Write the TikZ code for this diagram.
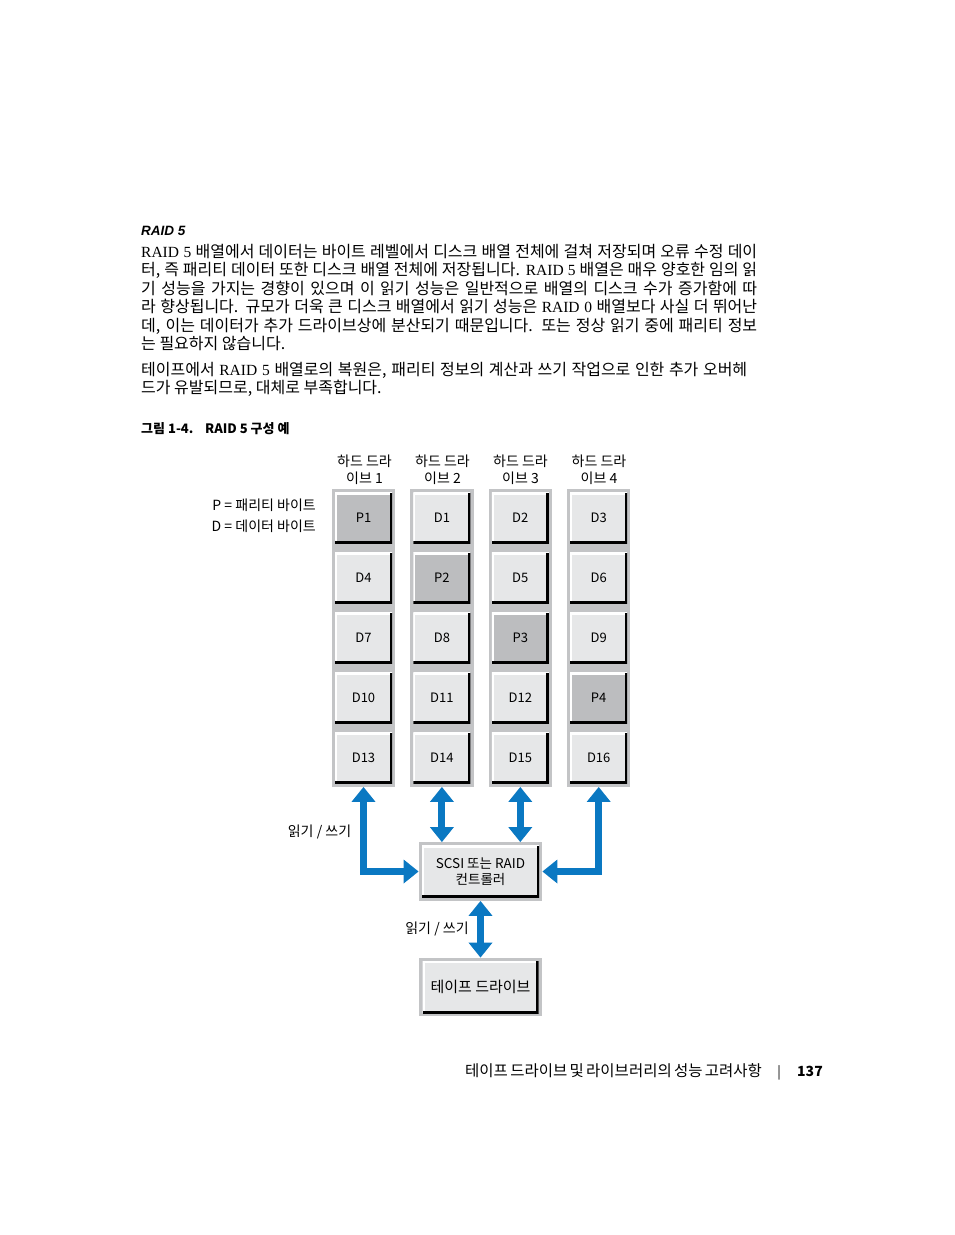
\documentclass[tikz,border=0pt]{standalone}
\usepackage{fontspec}
\setmainfont{Liberation Serif}
\newfontfamily\krfont{Noto Sans CJK KR}
\newfontfamily\headfont{Liberation Sans}
\usetikzlibrary{arrows.meta,positioning,fit,backgrounds}
\definecolor{dellblue}{HTML}{0A78C2}
\definecolor{diskfill}{HTML}{E6E7E8}
\definecolor{parfill}{HTML}{BCBDBF}
\definecolor{stripgray}{HTML}{C3C4C6}
\newcommand\lat[1]{{\rmfamily\fontsize{15.5}{18.5}\selectfont #1}}

\begin{document}
\begin{tikzpicture}[
  x=1pt, y=-1pt,
  font=\krfont\fontsize{13}{15}\selectfont,
  disk/.style={fill=diskfill, minimum width=57pt, minimum height=51pt, inner sep=0pt,
               path picture={
                 \draw[white, line width=4pt] (path picture bounding box.south west)
                   -- (path picture bounding box.north west) -- (path picture bounding box.north east);
                 \draw[black, line width=5pt] (path picture bounding box.north east)
                   -- (path picture bounding box.south east) -- (path picture bounding box.south west);}},
  parity/.style={disk, fill=parfill},
  strip/.style={fill=stripgray, inner sep=3pt},
  hdlbl/.style={align=center, font=\krfont\fontsize{14}{17}\selectfont},
  bodyln/.style={anchor=base west, inner sep=0pt, font=\krfont\fontsize{16}{18.5}\selectfont},
  rw/.style={{Triangle[length=15pt,width=23pt]}-{Triangle[length=15pt,width=23pt]},
             draw=dellblue, line width=7pt}
]
\path[use as bounding box] (0,0) rectangle (954,1235);

% text above the figure
\node[anchor=base west, inner sep=0pt, font=\headfont\bfseries\itshape\fontsize{13.5}{16}\selectfont] (head) at (141,235) {RAID 5};
\node[bodyln] (l1) at (141,257) {\makebox[616pt][s]{\lat{RAID 5} 배열에서 데이터는 바이트 레벨에서 디스크 배열 전체에 걸쳐 저장되며 오류 수정 데이}};
\node[bodyln] (l2) at (141,275.5) {\makebox[616pt][s]{터, 즉 패리티 데이터 또한 디스크 배열 전체에 저장됩니다. \lat{RAID 5} 배열은 매우 양호한 임의 읽}};
\node[bodyln] (l3) at (141,294) {\makebox[616pt][s]{기 성능을 가지는 경향이 있으며 이 읽기 성능은 일반적으로 배열의 디스크 수가 증가함에 따}};
\node[bodyln] (l4) at (141,312.5) {\makebox[616pt][s]{라 향상됩니다. 규모가 더욱 큰 디스크 배열에서 읽기 성능은 \lat{RAID 0} 배열보다 사실 더 뛰어난}};
\node[bodyln] (l5) at (141,331) {\makebox[616pt][s]{데, 이는 데이터가 추가 드라이브상에 분산되기 때문입니다. 또는 정상 읽기 중에 패리티 정보}};
\node[bodyln] (l6) at (141,349.5) {는 필요하지 않습니다.};
\node[bodyln] (l7) at (141,375) {\makebox[606pt][s]{테이프에서 \lat{RAID 5} 배열로의 복원은, 패리티 정보의 계산과 쓰기 작업으로 인한 추가 오버헤}};
\node[bodyln] (l8) at (141,393.5) {드가 유발되므로, 대체로 부족합니다.};

\node[anchor=base west, inner sep=0pt, font=\krfont\bfseries\fontsize{13}{16}\selectfont] (capno) at (141,433) {그림 1-4.};
\node[anchor=base west, inner sep=0pt, font=\krfont\bfseries\fontsize{13}{16}\selectfont] (captxt) at (205,433) {RAID 5 구성 예};

% legend and drive labels
\node[anchor=east, inner sep=0pt, font=\krfont\fontsize{14}{16}\selectfont] (legp) at (316,505) {P = 패리티 바이트};
\node[anchor=east, inner sep=0pt, font=\krfont\fontsize{14}{16}\selectfont] (legd) at (316,526) {D = 데이터 바이트};
\node[hdlbl] (hd1) at (364.5,469.5) {하드 드라\\이브 1};
\node[hdlbl] (hd2) at (442.5,469.5) {하드 드라\\이브 2};
\node[hdlbl] (hd3) at (520.5,469.5) {하드 드라\\이브 3};
\node[hdlbl] (hd4) at (599,469.5) {하드 드라\\이브 4};

% the four drives
\node[parity] (p1) at (363.5,518) {P1};
\node[disk, right=21pt of p1] (d1) {D1};
\node[disk, right=21pt of d1] (d2) {D2};
\node[disk, right=21pt of d2] (d3) {D3};
\node[disk, below=8.6pt of p1] (d4) {D4};
\node[parity, below=8.6pt of d1] (p2) {P2};
\node[disk, below=8.6pt of d2] (d5) {D5};
\node[disk, below=8.6pt of d3] (d6) {D6};
\node[disk, below=8.6pt of d4] (d7) {D7};
\node[disk, below=8.6pt of p2] (d8) {D8};
\node[parity, below=8.6pt of d5] (p3) {P3};
\node[disk, below=8.6pt of d6] (d9) {D9};
\node[disk, below=8.6pt of d7] (d10) {D10};
\node[disk, below=8.6pt of d8] (d11) {D11};
\node[disk, below=8.6pt of p3] (d12) {D12};
\node[parity, below=8.6pt of d9] (p4) {P4};
\node[disk, below=8.6pt of d10] (d13) {D13};
\node[disk, below=8.6pt of d11] (d14) {D14};
\node[disk, below=8.6pt of d12] (d15) {D15};
\node[disk, below=8.6pt of p4] (d16) {D16};

% controller and tape
\node[disk, minimum width=117pt, minimum height=52pt, align=center, font=\krfont\fontsize{13.5}{16.5}\selectfont] (ctrl) at (480.5,871.5) {SCSI 또는 RAID\\컨트롤러};
\node[disk, minimum width=116pt, minimum height=52pt, font=\krfont\fontsize{15}{17}\selectfont] (tape) at (480.5,987) {테이프 드라이브};

\begin{scope}[on background layer]
  \fill[white] (0,0) rectangle (954,1235);
  \node[strip, fit=(p1)(d13)] (col1) {};
  \node[strip, fit=(d1)(d14)] (col2) {};
  \node[strip, fit=(d2)(d15)] (col3) {};
  \node[strip, fit=(d3)(d16)] (col4) {};
  \node[strip, fit=(ctrl)] (ctrlf) {};
  \node[strip, fit=(tape)] (tapef) {};
\end{scope}

\draw[rw] (col1.south) |- (ctrlf.west);
\draw[rw] (col2.south) -- (col2.south |- ctrlf.north);
\draw[rw] (col3.south) -- (col3.south |- ctrlf.north);
\draw[rw] (col4.south) |- (ctrlf.east);
\draw[rw] (ctrlf.south) -- (tapef.north);
\node[font=\krfont\fontsize{14}{16}\selectfont] (rw1) at (319.5,832) {읽기 / 쓰기};
\node[font=\krfont\fontsize{14}{16}\selectfont] (rw2) at (437,929) {읽기 / 쓰기};

% footer
\node[anchor=base west, inner sep=0pt, font=\krfont\fontsize{15.5}{17}\selectfont] (foot) at (465,1076) {\makebox[295pt][s]{테이프 드라이브 및 라이브러리의 성능 고려사항}};
\node[anchor=base, inner sep=0pt, font=\krfont\fontsize{13}{16}\selectfont] (bar) at (779,1076) {|};
\node[anchor=base, inner sep=0pt, font=\krfont\bfseries\fontsize{14}{16}\selectfont] (pgno) at (810,1076) {137};
\end{tikzpicture}
\end{document}
